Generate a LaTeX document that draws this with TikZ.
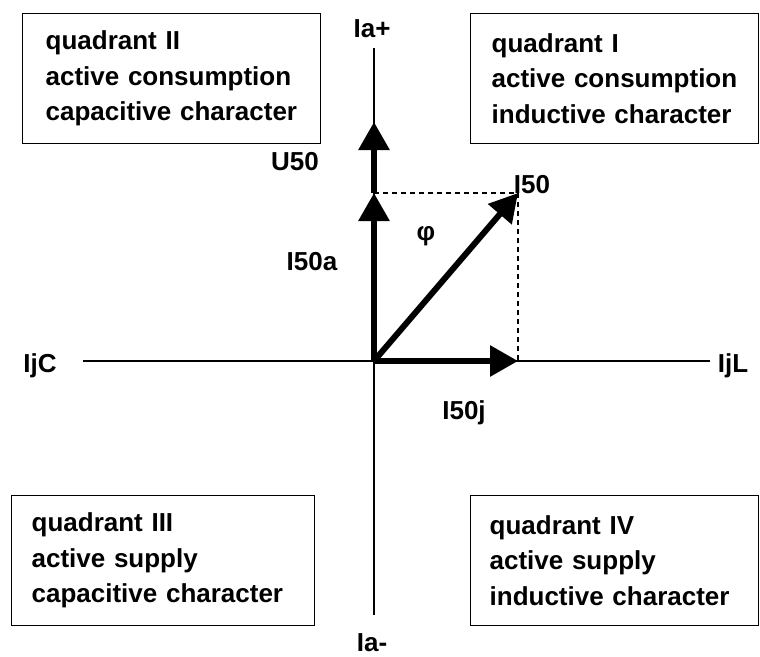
\documentclass[tikz,border=0pt]{standalone}
\usepackage{fontspec}
\setmainfont{Liberation Sans}
\usetikzlibrary{arrows.meta}

\tikzset{
	lbl/.style={font=\bfseries\fontsize{26}{30}\selectfont, inner sep=0pt, anchor=base},
	quad/.style={draw, line width=1.3pt, anchor=north west, minimum height=130pt,
		align=left, inner ysep=0pt, font=\bfseries\fontsize{26}{35.5}\selectfont},
	vec/.style={line width=6pt, -{Triangle[length=28pt,width=30pt]}},
	proj/.style={dash pattern=on 5pt off 4pt, line width=1.2pt},
	axis/.style={line width=1.3pt}
}

\begin{document}
\begin{tikzpicture}[x=1pt, y=-1pt]
		\useasboundingbox (0,0) rectangle (760,656);

		% Akser
		\coordinate (O) at (374,361);
		\coordinate (ytop) at (374,48);
		\coordinate (ybot) at (374,615);
		\coordinate (xleft) at (83,361);
		\coordinate (xright) at (710,361);
		\draw[axis] (ytop) -- (ybot);
		\draw[axis] (xleft) -- (xright);
		\node[lbl] (iap) at (372,37) {Ia+};
		\node[lbl] (iam) at (372,651) {Ia-};
		\node[lbl] (ijc) at (40,372) {IjC};
		\node[lbl] (ijl) at (733,372) {IjL};

		% Vektorer
		\coordinate (u) at (374,122);
		\coordinate (a) at (374,193);
		\coordinate (j) at (518,361);
		\coordinate (i) at (518,193);
		\draw[proj] (a) -- (i) -- (j);
		\draw[vec] (O) -- (a);
		\draw[vec] (a) -- (u);
		\draw[vec] (O) -- (j);
		\draw[vec] (O) -- (i);
		\node[lbl] (u50) at (295,170) {U50};
		\node[lbl] (i50) at (532,193) {I50};
		\node[lbl] (i50a) at (312,270) {I50a};
		\node[lbl] (i50j) at (464,419) {I50j};
		\node[lbl] (phi) at (426,240) {φ};

		% Kvadranter
		\node[quad, text width=252pt, inner xsep=23pt] (q2) at (22,13)
			{quadrant II\\active consumption\\capacitive character};
		\node[quad, text width=246pt, inner xsep=21pt] (q1) at (470,13)
			{quadrant I\\active consumption\\inductive character};
		\node[quad, text width=263pt, inner xsep=20pt] (q3) at (11,495)
			{quadrant III\\active supply\\capacitive character};
		\node[quad, text width=250pt, inner xsep=19pt] (q4) at (470,495)
			{quadrant IV\\active supply\\inductive character};
	\end{tikzpicture}
\end{document}
